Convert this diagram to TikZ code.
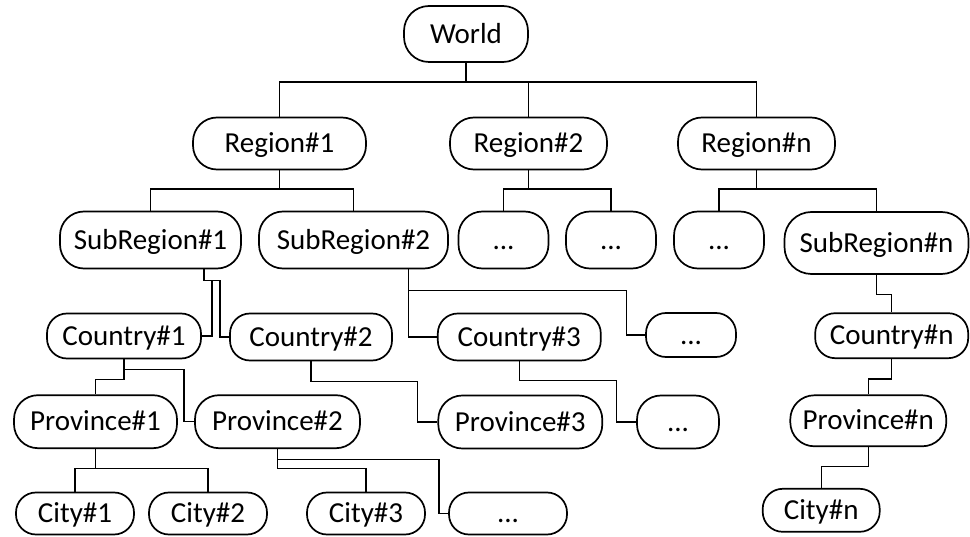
\documentclass[tikz,border=0pt]{standalone}
\usepackage{fontspec}
\setmainfont{Carlito}
\usetikzlibrary{calc}
\begin{document}
\begin{tikzpicture}[x=1pt,y=-1pt,
  tbox/.style={draw=black, line width=1.7pt, rounded corners=24pt, inner sep=0pt,
    font=\fontsize{29}{34}\selectfont, text height=18.3pt, text depth=0pt},
  small/.style={rounded corners=20pt},
  link/.style={draw=black, line width=1.2pt}]
\useasboundingbox (0,0) rectangle (970,537);

% level 1
\node[tbox, minimum width=124pt, minimum height=56pt, rounded corners=25pt] (W) at (466,34) {World};

% level 2
\node[tbox, minimum width=173pt, minimum height=52pt] (R1) at (279.5,143.5) {Region\#1};
\node[tbox, minimum width=157pt, minimum height=52pt] (R2) at (528.5,143.5) {Region\#2};
\node[tbox, minimum width=157pt, minimum height=52pt] (Rn) at (756.5,143.5) {Region\#n};

% level 3
\node[tbox, minimum width=181pt, minimum height=57pt] (SR1) at (150.5,240) {SubRegion\#1};
\node[tbox, minimum width=189pt, minimum height=57pt] (SR2) at (353.5,240) {SubRegion\#2};
\node[tbox, minimum width=90pt, minimum height=57pt] (D1) at (503.5,240) {...};
\node[tbox, minimum width=90pt, minimum height=57pt] (D2) at (611,240) {...};
\node[tbox, minimum width=90pt, minimum height=57pt] (D3) at (719,240) {...};
\node[tbox, minimum width=184pt, minimum height=62pt, rounded corners=27pt] (SRn) at (876.5,243) {SubRegion\#n};

% level 4
\node[tbox, small, minimum width=154pt, minimum height=45pt] (C1) at (124,336) {Country\#1};
\node[tbox, small, minimum width=162pt, minimum height=47pt] (C2) at (311,337) {Country\#2};
\node[tbox, small, minimum width=163pt, minimum height=47pt] (C3) at (519.3,337) {Country\#3};
\node[tbox, small, minimum width=90pt, minimum height=44pt] (D4) at (691,335) {...};
\node[tbox, small, minimum width=153pt, minimum height=45pt] (Cn) at (891.7,335.7) {Country\#n};

% level 5
\node[tbox, minimum width=163pt, minimum height=53pt] (P1) at (95.5,421.7) {Province\#1};
\node[tbox, minimum width=165pt, minimum height=53pt] (P2) at (277.5,421.7) {Province\#2};
\node[tbox, minimum width=164pt, minimum height=53pt] (P3) at (520.3,422) {Province\#3};
\node[tbox, minimum width=82pt, minimum height=53pt] (D5) at (678,422) {...};
\node[tbox, minimum width=156pt, minimum height=51pt] (Pn) at (868.3,420.8) {Province\#n};

% level 6
\node[tbox, small, minimum width=118pt, minimum height=42pt] (Ci1) at (75,513.5) {City\#1};
\node[tbox, small, minimum width=118pt, minimum height=42pt] (Ci2) at (208,513.5) {City\#2};
\node[tbox, small, minimum width=118pt, minimum height=42pt] (Ci3) at (366,513.5) {City\#3};
\node[tbox, small, minimum width=118pt, minimum height=42pt] (D6) at (508,513.5) {...};
\node[tbox, small, minimum width=117pt, minimum height=43pt] (Cin) at (821.2,510.3) {City\#n};

% bus heights
\coordinate (busA) at (0,82);
\coordinate (busB) at (0,189);
\coordinate (busC) at (0,468.7);

% World -> regions
\draw[link] (W.south) |- (R1.north |- busA) -- (R1.north);
\draw[link] (W.south) |- (R2.north |- busA) -- (R2.north);
\draw[link] (W.south) |- (Rn.north |- busA) -- (Rn.north);

% regions -> subregions
\draw[link] (R1.south) |- (SR1.north |- busB) -- (SR1.north);
\draw[link] (R1.south) |- (SR2.north |- busB) -- (SR2.north);
\draw[link] (R2.south) |- (D1.north |- busB) -- (D1.north);
\draw[link] (R2.south) |- (D2.north |- busB) -- (D2.north);
\draw[link] (Rn.south) |- (D3.north |- busB) -- (D3.north);
\draw[link] (Rn.south) |- (SRn.north |- busB) -- (SRn.north);

% subregions -> countries
\coordinate (sa) at ($(SR1.south)+(53.5,0)$);
\draw[link] (sa) -- ++(0,11) -- ++(8,0) |- (C1.east);
\draw[link] (sa) -- ++(0,11) -- ++(16,0) |- (C2.west);
\coordinate (sb) at ($(SR2.south)+(55,0)$);
\draw[link] (sb) |- (C3.west);
\draw[link] (sb) -- ++(0,21) -- ++(218,0) |- (D4.west);
\draw[link] (SRn.south) -- ++(0,20) -| (Cn.north);

% countries -> provinces
\draw[link] (C1.south) -- ++(0,20) -| (P1.north);
\draw[link] (C1.south) -- ++(0,10) -- ++(60,0) |- (P2.west);
\draw[link] (C2.south) -- ++(0,20) -- ++(106.5,0) |- (P3.west);
\draw[link] (C3.south) -- ++(0,19.5) -- ++(97.5,0) |- (D5.west);
\draw[link] (Cn.south) -- ++(0,20) -| (Pn.north);

% provinces -> cities
\draw[link] (P1.south) |- (Ci1.north |- busC) -- (Ci1.north);
\draw[link] (P1.south) |- (Ci2.north |- busC) -- (Ci2.north);
\draw[link] (P2.south) |- (Ci3.north |- busC) -- (Ci3.north);
\draw[link] (P2.south) -- ++(0,10.5) -- ++(161.5,0) |- (D6.west);
\draw[link] (Pn.south) -- ++(0,19) -| (Cin.north);
\end{tikzpicture}
\end{document}
